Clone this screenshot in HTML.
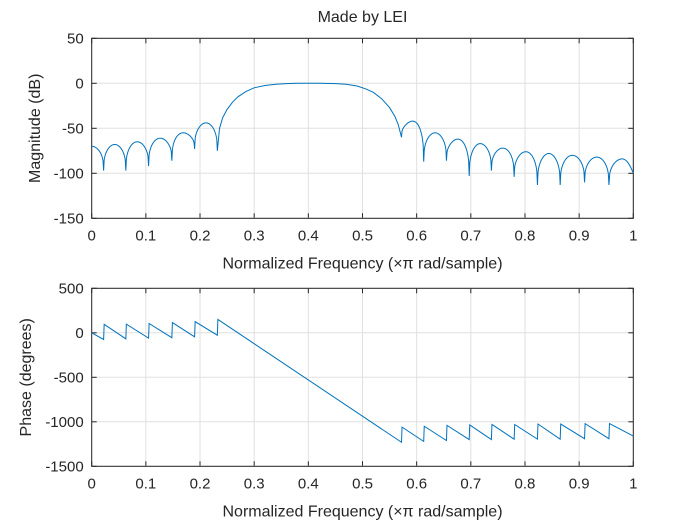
<!DOCTYPE html>
<html><head><meta charset="utf-8"><style>
body{margin:0;background:#fff;}
svg{display:block;font-family:"Liberation Sans",sans-serif;}
</style></head><body>
<svg id="chart" width="700" height="525">
<rect x="0" y="0" width="700" height="525" fill="#fff"/>
</svg>
<script>
// ---- magnitude data ----
const nullF = [0.022,0.063,0.105,0.148,0.19,0.232, 0.572,0.613,0.655,0.697,0.738,0.78,0.823,0.865,0.91,0.955];
const nullDb = [-97,-97,-92,-86,-73,-75, -60,-87,-86,-103,-97,-104,-113,-113,-110,-113];
const leftPeakDb = [-68,-65,-61,-55,-44];
const rightPeakDb = [-42,-55,-62,-67,-72,-76,-78,-80,-82,-84];
const startDb = -70, endDb = -100;
const passF = [0.232,0.236,0.242,0.25,0.26,0.27,0.285,0.3,0.32,0.34,0.36,0.38,0.42,0.45,0.47,0.49,0.505,0.52,0.535,0.55,0.56,0.566,0.572];
const passDb = [-75,-50,-38,-29,-21,-15,-9,-5,-2.5,-1,-0.3,0,0,-0.3,-1,-3,-6,-10,-17,-27,-37,-46,-60];
// ---- phase data ----
const phJumpF = [0.022,0.063,0.105,0.148,0.19,0.232, 0.572,0.613,0.655,0.697,0.738,0.78,0.823,0.865,0.91,0.955];
const phBefore = [-75,-68,-60,-55,-45,-27, -1230,-1220,-1210,-1200,-1200,-1195,-1195,-1195,-1190,-1190];
const phAfter = [95,97,105,115,125,150, -1060,-1050,-1040,-1035,-1030,-1030,-1025,-1025,-1020,-1020];
const phStart = 0, phEnd = -1160;
const xTicks = [0,0.1,0.2,0.3,0.4,0.5,0.6,0.7,0.8,0.9,1];
const magTicks = [50,0,-50,-100,-150];
const phTicks = [500,0,-500,-1000,-1500];

const NS='http://www.w3.org/2000/svg';
const svg=document.getElementById('chart');
const L=91.7,R=633.3;
const xs=f=>L+f*(R-L);
const top1=38.3,bot1=218.3, top2=288.3,bot2=466.3;
const y1=d=>top1+(50-d)/200*(bot1-top1);
const y2=d=>top2+(500-d)/2000*(bot2-top2);
function el(t,a,p){const e=document.createElementNS(NS,t);for(const k in a)e.setAttribute(k,a[k]);(p||svg).appendChild(e);return e;}
function txt(s,x,y,anchor,size,p){const e=el('text',{x:x,y:y,'text-anchor':anchor,'font-size':size,fill:'#262626'},p);e.textContent=s;return e;}

function axes(name,top,bot,ticks,ymap,ylabel){
  const g=el('g',{});
  
  
  xTicks.forEach(t=>{const x=xs(t);el('line',{x1:x,x2:x,y1:top,y2:bot,stroke:'#e0e0e0','stroke-width':1},g);
    el('line',{x1:x,x2:x,y1:bot,y2:bot-5,stroke:'#262626'},g);el('line',{x1:x,x2:x,y1:top,y2:top+5,stroke:'#262626'},g);
    const lb=txt(String(t),x,bot+22,'middle',15,g);});
  ticks.forEach(t=>{const y=ymap(t);el('line',{x1:L,x2:R,y1:y,y2:y,stroke:'#e0e0e0'},g);
    el('line',{x1:L,x2:L+5,y1:y,y2:y,stroke:'#262626'},g);el('line',{x1:R,x2:R-5,y1:y,y2:y,stroke:'#262626'},g);
    const lb=txt(String(t),L-8,y+5,'end',15,g);});
  el('rect',{x:L,y:top,width:R-L,height:bot-top,fill:'none',stroke:'#262626','stroke-width':1},g);
  const xl=txt('Normalized Frequency  (\u00d7\u03c0 rad/sample)',(L+R)/2,bot+50,'middle',16,g);
  xl.setAttribute('xml:space','preserve');
  
  const yl=txt(ylabel,0,0,'middle',16,g);
  yl.setAttribute('transform','translate('+(name==='magnitude-axes'?40:31)+','+((top+bot)/2)+') rotate(-90)');
  
  return g;
}
axes('magnitude-axes',top1,bot1,magTicks,y1,'Magnitude (dB)');
axes('phase-axes',top2,bot2,phTicks,y2,'Phase (degrees)');
const tt=txt('Made by LEI',(L+R)/2,22,'middle',16);


function lobe(f0,d0,f1,d1,pk,pts){
  const n=40;
  for(let i=1;i<=n;i++){const t=i/n;const base=d0+(d1-d0)*t;const hump=Math.pow(Math.sin(Math.PI*t),0.35);
    pts.push([f0+(f1-f0)*t, base+(pk-base)*hump]);}
}
let mp=[[0,startDb]];
{const n=20;for(let i=1;i<=n;i++){const t=i/n;const h=Math.pow(Math.cos(Math.PI/2*t),0.35);mp.push([nullF[0]*t, nullDb[0]+(startDb-nullDb[0])*h]);}}
for(let i=0;i<5;i++) lobe(nullF[i],nullDb[i],nullF[i+1],nullDb[i+1],leftPeakDb[i],mp);
for(let i=1;i<passF.length;i++) mp.push([passF[i],passDb[i]]);
for(let i=6;i<15;i++) lobe(nullF[i],nullDb[i],nullF[i+1],nullDb[i+1],rightPeakDb[i-6],mp);
{const f0=nullF[15],d0=nullDb[15],pk=rightPeakDb[9];const n=30;
 for(let i=1;i<=n;i++){const t=i/n;const f=f0+(1-f0)*t;
  const up=Math.pow(Math.sin(Math.PI/2*Math.min(1,t/0.55)),0.35);
  let d=d0+(pk-d0)*up; if(t>0.55){const s=(t-0.55)/0.45; d=pk+(endDb-pk)*s*s;}
  mp.push([f,d]);}}
const mpath=el('path',{d:'M'+mp.map(p=>xs(p[0]).toFixed(2)+','+y1(p[1]).toFixed(2)).join('L'),fill:'none',stroke:'#0072BD','stroke-width':1});



let pp=[[0,phStart]];
for(let i=0;i<phJumpF.length;i++){pp.push([phJumpF[i],phBefore[i]]);pp.push([phJumpF[i]+0.001,phAfter[i]]);}
pp.push([1,phEnd]);
const ppath=el('path',{d:'M'+pp.map(p=>xs(p[0]).toFixed(2)+','+y2(p[1]).toFixed(2)).join('L'),fill:'none',stroke:'#0072BD','stroke-width':1});


</script>
</body></html>
